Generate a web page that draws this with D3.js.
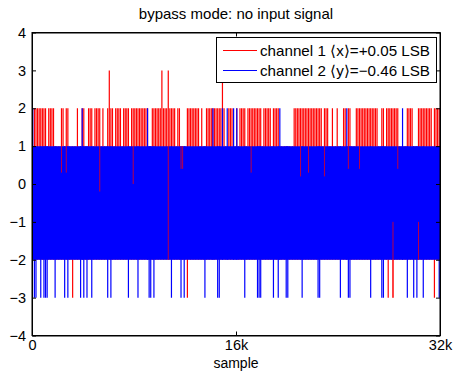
<!DOCTYPE html>
<html>
<head>
<meta charset="utf-8">
<script src="https://cdn.jsdelivr.net/npm/d3@7"></script>
<style>
  body { margin: 0; background: #fff; }
  svg text { font-family: "Liberation Sans", Arial, Helvetica, sans-serif; fill: #000; }
</style>
</head>
<body>
<svg id="chart" width="454" height="372"></svg>
<script>
// Record: 32768 samples, shown as per-block peak envelopes (128 samples per block).
const nSamples = 32768;
const blockSize = 128;
const nBlocks = nSamples / blockSize;

const xTickValues = [0, 16384, 32768];
const xTickLabels = ["0", "16k", "32k"];
const yTickValues = [-4, -3, -2, -1, 0, 1, 2, 3, 4];

// Both channels toggle between these levels (LSB) in every block.
const baseLow = -2;
const baseHigh = 1;

// Channel 1: blocks whose maximum reaches +2 LSB
const ch1Peak2 = [1,2,3,4,5,6,7,8,10,11,12,13,18,19,21,22,28,31,32,35,36,37,39,40,41,42,44,
  47,48,49,50,52,53,54,55,57,58,59,60,62,63,64,65,66,67,68,69,70,71,72,75,76,77,78,79,80,81,
  82,83,84,85,86,87,88,89,91,92,97,98,99,100,101,102,103,104,106,109,110,111,112,113,114,115,
  116,117,118,119,120,123,124,125,128,130,131,132,133,135,136,137,138,139,140,141,142,143,145,
  146,147,148,149,151,152,153,154,164,165,166,167,168,169,170,171,172,173,174,175,176,177,178,
  179,180,181,183,184,185,188,191,195,196,198,199,203,204,205,206,207,208,209,210,211,212,213,
  214,215,216,219,220,222,223,224,225,226,227,228,229,235,236,237,238,242,243,244,245,246,247,
  248,249,250,252,253,254,255];
// Channel 1: blocks whose maximum reaches +3 LSB
const ch1Peak3 = [48, 81, 85, 119];
// Channel 1: blocks whose minimum reaches -3 LSB
const ch1Trough3 = [25, 97, 223, 226, 252];
// Channel 1 excursions left uncovered by channel 2: [block, low, high]
const ch1Visible = [[18,0.3,1],[21,0.3,1],[42,-0.2,1],[63,0,1],[85,-2,1],[93,0.4,1],[94,0.4,1],
  [137,0.3,1],[168,0.2,1],[173,0.3,1],[183,0.2,1],[198,0.4,1],[205,0.4,1],[229,0.4,1],
  [226,-3,-1],[242,-2,-1]];

// Channel 2: blocks whose maximum reaches +2 LSB
const ch2Peak2 = [0, 31, 72, 113, 119, 122, 126, 128, 155, 197, 232];
// Channel 2: blocks whose minimum reaches -3 LSB
const ch2Trough3 = [1,2,5,7,8,9,14,20,22,30,32,34,37,47,49,60,66,73,74,76,87,93,95,108,116,117,
  133,141,142,143,151,154,159,160,169,179,180,193,198,199,212,219,220,235,239,241,245,255];

const legendLabels = ["channel 1 \u27E8x\u27E9=+0.05 LSB", "channel 2 \u27E8y\u27E9=\u22120.46 LSB"];
const titleText = "bypass mode: no input signal";
const xLabelText = "sample";

const RED = "#ff0000", BLUE = "#0000ff";

// Build per-block envelopes
function envelope(peak2, peak3, trough3) {
  const p2 = new Set(peak2), p3 = new Set(peak3), t3 = new Set(trough3);
  return d3.range(nBlocks).map(b => ({
    sample: b * blockSize + blockSize / 2,
    lo: t3.has(b) ? -3 : baseLow,
    hi: p3.has(b) ? 3 : (p2.has(b) ? 2 : baseHigh)
  }));
}
const env1 = envelope(ch1Peak2, ch1Peak3, ch1Trough3);
const env2 = envelope(ch2Peak2, [], ch2Trough3);

const svg = d3.select("#chart");
const plotLeft = 32, plotRight = 440, plotTop = 32.5, plotBottom = 335.5;

const x = d3.scaleLinear().domain([0, nSamples]).range([plotLeft, plotRight]);
const y = d3.scaleLinear().domain([-4, 4]).range([plotBottom, plotTop]);

svg.append("defs").append("clipPath").attr("id", "plotclip")
  .append("rect").attr("x", plotLeft).attr("y", plotTop)
  .attr("width", plotRight - plotLeft).attr("height", plotBottom - plotTop);

const plot = svg.append("g").attr("clip-path", "url(#plotclip)");

// Channel 1 (drawn first)
plot.append("g").selectAll("line").data(env1).join("line")
  .attr("x1", d => x(d.sample)).attr("x2", d => x(d.sample))
  .attr("y1", d => y(d.lo)).attr("y2", d => y(d.hi))
  .attr("stroke", RED).attr("stroke-width", 1.2);

// Channel 2: common band + excursions
const band = d3.area()
  .x(d => x(d.sample))
  .y0(d => y(Math.max(d.lo, baseLow)))
  .y1(d => y(Math.min(d.hi, baseHigh)));
const bandData = [{sample: 0, lo: baseLow, hi: baseHigh}, ...env2, {sample: nSamples, lo: baseLow, hi: baseHigh}];
plot.append("path").datum(bandData).attr("d", band).attr("fill", BLUE);

plot.append("g").selectAll("line").data(env2.filter(d => d.lo < baseLow || d.hi > baseHigh)).join("line")
  .attr("x1", d => x(d.sample)).attr("x2", d => x(d.sample))
  .attr("y1", d => y(d.lo)).attr("y2", d => y(d.hi))
  .attr("stroke", BLUE).attr("stroke-width", 1.2);

// Channel 1 segments showing through channel 2
plot.append("g").selectAll("line").data(ch1Visible).join("line")
  .attr("x1", d => x(d[0] * blockSize + blockSize / 2)).attr("x2", d => x(d[0] * blockSize + blockSize / 2))
  .attr("y1", d => y(d[1])).attr("y2", d => y(d[2]))
  .attr("stroke", RED).attr("stroke-width", 0.9).attr("stroke-opacity", 0.8);

// Axes (ticks inward, box all round)
const fmtX = (d, i) => xTickLabels[i];
const fmtY = d => d < 0 ? "\u2212" + Math.abs(d) : String(d);
const tickLen = 4;

const gx = svg.append("g").attr("transform", `translate(0,${plotBottom})`)
  .call(d3.axisBottom(x).tickValues(xTickValues).tickFormat(fmtX).tickSizeInner(-tickLen).tickSizeOuter(0).tickPadding(4));
const gxTop = svg.append("g").attr("transform", `translate(0,${plotTop})`)
  .call(d3.axisTop(x).tickValues(xTickValues).tickFormat("").tickSizeInner(-tickLen).tickSizeOuter(0));
const gy = svg.append("g").attr("transform", `translate(${plotLeft},0)`)
  .call(d3.axisLeft(y).tickValues(yTickValues).tickFormat(fmtY).tickSizeInner(-tickLen).tickSizeOuter(0).tickPadding(6));
const gyRight = svg.append("g").attr("transform", `translate(${plotRight},0)`)
  .call(d3.axisRight(y).tickValues(yTickValues).tickFormat("").tickSizeInner(-tickLen).tickSizeOuter(0));

[gx, gxTop, gy, gyRight].forEach(g => {
  g.select(".domain").attr("stroke", "#000").attr("stroke-width", 1);
  g.selectAll(".tick line").attr("stroke", "#000").attr("stroke-width", 1);
  g.selectAll(".tick text").attr("font-size", 14.5).attr("fill", "#000")
    .attr("font-family", "'Liberation Sans', Arial, sans-serif");
});

// Box outline
svg.append("rect").attr("x", plotLeft).attr("y", plotTop)
  .attr("width", plotRight - plotLeft).attr("height", plotBottom - plotTop)
  .attr("fill", "none").attr("stroke", "#000").attr("stroke-width", 1);

// Title and axis label
svg.append("text").attr("x", (plotLeft + plotRight) / 2).attr("y", 19).attr("text-anchor", "middle")
  .attr("font-size", 15).text(titleText);
svg.append("text").attr("x", (plotLeft + plotRight) / 2).attr("y", 367.5).attr("text-anchor", "middle")
  .attr("font-size", 14).text(xLabelText);

// Legend
const lg = svg.append("g");
lg.append("rect").attr("x", 216.5).attr("y", 37.5).attr("width", 220).attr("height", 45)
  .attr("fill", "#fff").attr("stroke", "#000").attr("stroke-width", 1);
[RED, BLUE].forEach((c, i) => {
  const yy = 50.5 + i * 20;
  lg.append("line").attr("x1", 223).attr("x2", 257).attr("y1", yy).attr("y2", yy)
    .attr("stroke", c).attr("stroke-width", 1);
  lg.append("text").attr("x", 260).attr("y", yy + 5).attr("font-size", 15)
    .attr("textLength", 170).attr("lengthAdjust", "spacingAndGlyphs").text(legendLabels[i]);
});
</script>
</body>
</html>
